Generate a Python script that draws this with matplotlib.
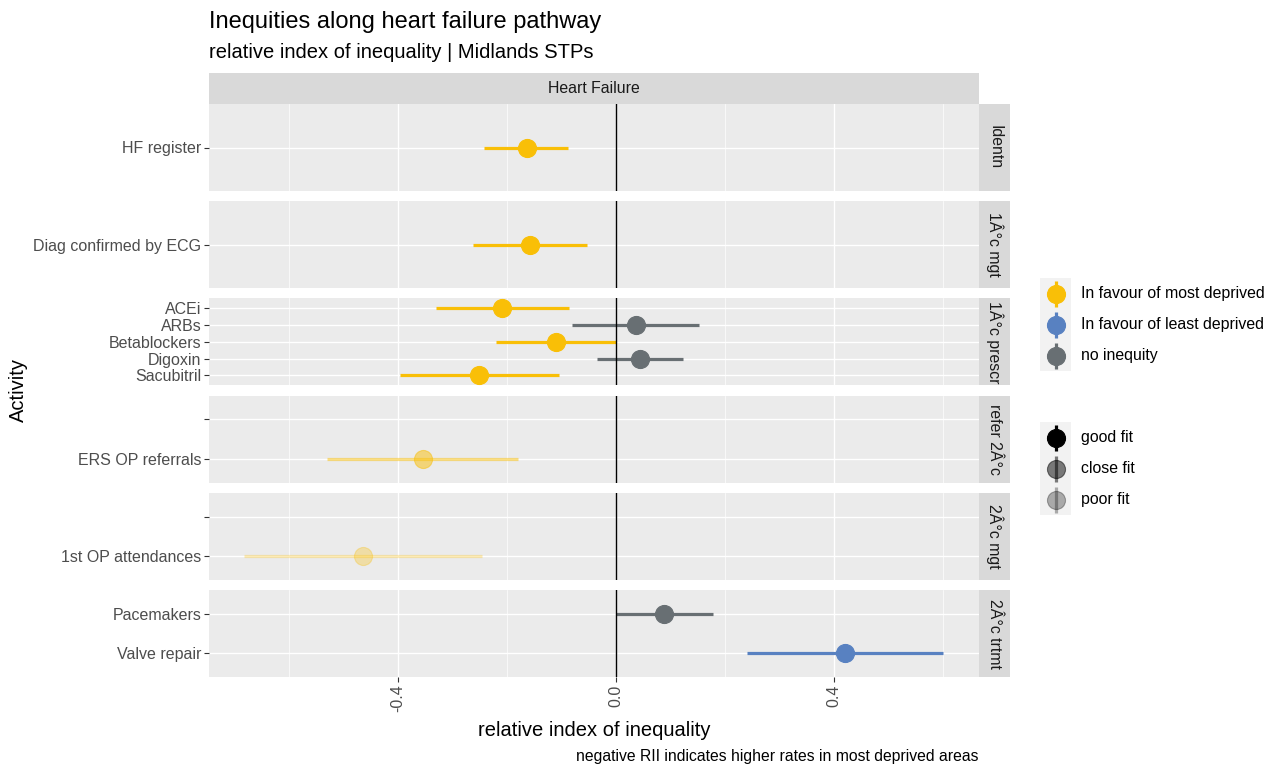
import matplotlib
matplotlib.use("Agg")
import matplotlib.pyplot as plt
from matplotlib.patches import Rectangle
from matplotlib.ticker import FixedLocator

plt.rcParams['font.family'] = ['Liberation Sans', 'DejaVu Sans']

# ---------------- data ----------------
stages = ["Identn", "1Â°c mgt", "1Â°c prescr", "refer 2Â°c", "2Â°c mgt", "2Â°c trtmt"]
# category labels per stage, top to bottom
stage_levels = [
    ["HF register"],
    ["Diag confirmed by ECG"],
    ["ACEi", "ARBs", "Betablockers", "Digoxin", "Sacubitril"],
    ["", "ERS OP referrals"],
    ["", "1st OP attendances"],
    ["Pacemakers", "Valve repair"],
]
activities = ["HF register", "Diag confirmed by ECG", "ACEi", "ARBs", "Betablockers",
              "Digoxin", "Sacubitril", "ERS OP referrals", "1st OP attendances",
              "Pacemakers", "Valve repair"]
activity_stage = [0, 1, 2, 2, 2, 2, 2, 3, 4, 5, 5]
rii = [-0.163, -0.158, -0.209, 0.037, -0.110, 0.044, -0.251, -0.354, -0.464, 0.088, 0.420]
rii_lower = [-0.242, -0.262, -0.330, -0.081, -0.220, -0.035, -0.396, -0.530, -0.683, 0.000, 0.240]
rii_upper = [-0.088, -0.053, -0.086, 0.152, 0.000, 0.123, -0.105, -0.180, -0.246, 0.178, 0.600]
inequity = ["most", "most", "most", "none", "most", "none", "most", "most", "most", "none", "least"]
fit = ["good", "good", "good", "good", "good", "good", "good", "close", "poor", "good", "good"]

inequity_labels = ["In favour of most deprived", "In favour of least deprived", "no inequity"]
inequity_keys = ["most", "least", "none"]
fit_labels = ["good fit", "close fit", "poor fit"]
fit_keys = ["good", "close", "poor"]
x_ticks = [-0.4, 0.0, 0.4]
x_minor = [-0.6, -0.2, 0.2, 0.6]

colours = {"most": "#F9BF07", "least": "#5881C1", "none": "#686F73"}
alphas = {"good": 1.0, "close": 0.5, "poor": 0.3}

# ---------------- layout ----------------
W, H = 1275, 766
fig = plt.figure(figsize=(W / 100, H / 100), dpi=100)

def fx(px):
    return px / W

def fy(py):
    return 1 - py / H

panel_left, panel_right = 209, 979
panel_top0, panel_h, panel_step = 104, 87, 97.2
xlim = (-0.747, 0.666)
grey30 = "#4D4D4D"
grey20 = "#333333"
grey10 = "#1A1A1A"
tick_fs = 11.5
strip_fs = 11.4

axes = []
for k, stage in enumerate(stages):
    top = panel_top0 + k * panel_step
    ax = fig.add_axes([fx(panel_left), fy(top + panel_h), fx(panel_right - panel_left), panel_h / H])
    ax.set_facecolor("#EBEBEB")
    for s in ax.spines.values():
        s.set_visible(False)
    levels = stage_levels[k]
    n = len(levels)
    ypos = {lab: n - i for i, lab in enumerate(levels)}
    ax.set_ylim(0.4, n + 0.6)
    ax.set_xlim(*xlim)
    ax.set_yticks([n - i for i in range(n)])
    ax.set_yticklabels(levels)
    ax.xaxis.set_major_locator(FixedLocator(x_ticks))
    ax.xaxis.set_minor_locator(FixedLocator(x_minor))
    ax.grid(True, which="major", color="white", lw=1.0)
    ax.grid(True, which="minor", axis="x", color="white", lw=0.5)
    ax.set_axisbelow(True)
    ax.tick_params(axis="y", length=3.5, width=0.8, color=grey20, labelcolor=grey30,
                   labelsize=tick_fs, pad=2)
    ax.tick_params(axis="x", which="minor", length=0)
    if k < len(stages) - 1:
        ax.tick_params(axis="x", which="major", length=0, labelbottom=False)
    else:
        ax.tick_params(axis="x", which="major", length=3.5, width=0.8, color=grey20,
                       labelcolor=grey30, labelsize=tick_fs, pad=2)
        ax.set_xticklabels([f"{v:.1f}" for v in x_ticks], rotation=90, va="top")
    ax.axvline(0, color="black", lw=1.0, zorder=3.5)

    for i, act in enumerate(activities):
        if activity_stage[i] != k:
            continue
        y = ypos[act]
        c = colours[inequity[i]]
        a = alphas[fit[i]]
        ax.plot([rii_lower[i], rii_upper[i]], [y, y], color=c, alpha=a, lw=2.3,
                solid_capstyle="butt", zorder=3)
        ax.plot([rii[i]], [y], marker="o", ms=13, color=c, alpha=a, mec=c, mew=0.8,
                zorder=4, linestyle="none")
    axes.append(ax)

    # right strip
    sax = fig.add_axes([fx(panel_right), fy(top + panel_h), fx(31), panel_h / H])
    sax.set_facecolor("#D9D9D9")
    sax.set_xticks([]); sax.set_yticks([])
    for s in sax.spines.values():
        s.set_visible(False)
    sax.text(0.5, 0.5, stage, rotation=-90, ha="center", va="center", fontsize=strip_fs,
             color=grey10, transform=sax.transAxes)

# top strip
tax = fig.add_axes([fx(panel_left), fy(104), fx(panel_right - panel_left), 31 / H])
tax.set_facecolor("#D9D9D9")
tax.set_xticks([]); tax.set_yticks([])
for s in tax.spines.values():
    s.set_visible(False)
tax.text(0.5, 0.5, "Heart Failure", ha="center", va="center", fontsize=strip_fs, color=grey10,
         transform=tax.transAxes)

# titles and labels
fig.text(fx(209), fy(22), "Inequities along heart failure pathway", fontsize=17,
         ha="left", va="center", color="black")
fig.text(fx(209), fy(52), "relative index of inequality | Midlands STPs", fontsize=14.5,
         ha="left", va="center", color="black")
fig.text(fx(18), fy(390), "Activity", rotation=90, fontsize=14.5, ha="center", va="center")
fig.text(fx(594.5), fy(730), "relative index of inequality", fontsize=14.5,
         ha="center", va="center", color="black")
fig.text(fx(979), fy(756), "negative RII indicates higher rates in most deprived areas",
         fontsize=11.3, ha="right", va="center", color="black")

# legends (drawn in pixel space)
lax = fig.add_axes([0, 0, 1, 1])
lax.set_xlim(0, W); lax.set_ylim(H, 0)
lax.axis("off")

def legend_block(y0, keys, labels, colour_fn, alpha_fn):
    lax.add_patch(Rectangle((1040, y0), 31, 31 * len(keys), facecolor="#F2F2F2",
                            edgecolor="none"))
    for j, (key, lab) in enumerate(zip(keys, labels)):
        yc = y0 + 15.5 + 31 * j
        c = colour_fn(key); a = alpha_fn(key)
        lax.plot([1055.5, 1055.5], [yc - 13, yc + 13], color=c, alpha=a, lw=2.3,
                 solid_capstyle="butt")
        lax.plot([1055.5], [yc], marker="o", ms=13, color=c, alpha=a, mec=c, mew=0.8,
                 linestyle="none")
        lax.text(1081, yc, lab, fontsize=11.4, ha="left", va="center", color="black")

legend_block(278, inequity_keys, inequity_labels, lambda k: colours[k], lambda k: 1.0)
legend_block(422, fit_keys, fit_labels, lambda k: "black", lambda k: alphas[k])

fig.savefig("out.png", dpi=100)
